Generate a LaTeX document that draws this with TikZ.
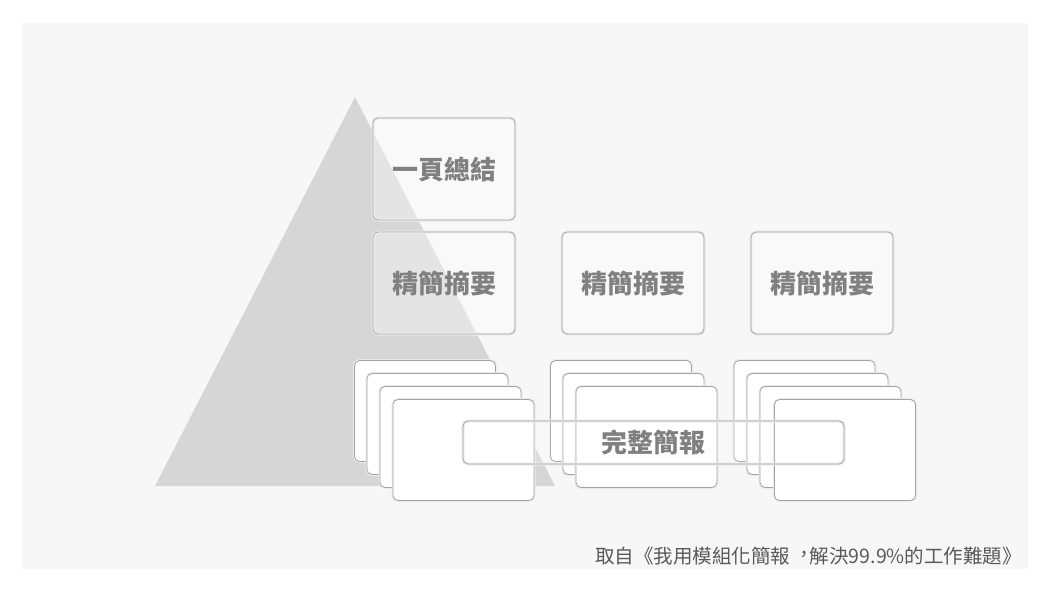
\documentclass[tikz,border=0pt]{standalone}
\usepackage{fontspec}
\newfontfamily\cjk[Script=CJK, Language=Chinese Traditional]{Noto Sans CJK TC}
\newcommand\midcomma{\makebox[1em][l]{\hspace{.2em}\raisebox{.08em}{，}}}
\usetikzlibrary{calc}

\begin{document}
\begin{tikzpicture}[x=1pt, y=-1pt,
  box/.style={draw=black!36, line width=.8pt, rounded corners=5pt, fill=white, fill opacity=.35, text opacity=1, inner sep=0pt,
    minimum width=142pt, minimum height=102pt, text=black!50, font=\cjk\bfseries\fontsize{26pt}{30pt}\selectfont,
    preaction={draw=black!8, line width=3pt}},
  card/.style={box, fill opacity=1, minimum width=141pt, minimum height=101pt},
  wide/.style={box, fill opacity=.15, minimum width=381pt, minimum height=43pt}]
\useasboundingbox (0,0) rectangle (1050,590);
\fill[black!3] (22,23) rectangle (1028,569);
\fill[black!16] (355,97) -- (555,486) -- (155,486) -- cycle;
% top and summaries
\node[box] (v1) at (444,169) {一頁總結};
\node[box] (v2) at (444,283) {精簡摘要};
\node[box] (v3) at (633,283) {精簡摘要};
\node[box] (v4) at (822,283) {精簡摘要};
% full decks
\node[card] (c11) at (425,411) {};
\node[card] (c12) at (437.5,424) {};
\node[card] (c13) at (450.5,437) {};
\node[card] (c14) at (463.5,450) {};
\node[card] (c21) at (621,411) {};
\node[card] (c22) at (633.5,424) {};
\node[card] (c23) at (646.5,437) {};
\node[card] (c31) at (804.5,411) {};
\node[card] (c32) at (817.5,424) {};
\node[card] (c33) at (830.5,437) {};
\node[card] (c34) at (845,450) {};
\node[wide] (v5) at (653.5,442.5) {完整簡報};
\node[anchor=base east, inner sep=0pt, text=black!65, font=\cjk\fontsize{19.5pt}{20pt}\selectfont] (src) at (1022,563) {取自《我用模組化簡報\midcomma 解決99.9\%的工作難題》};
\end{tikzpicture}
\end{document}
